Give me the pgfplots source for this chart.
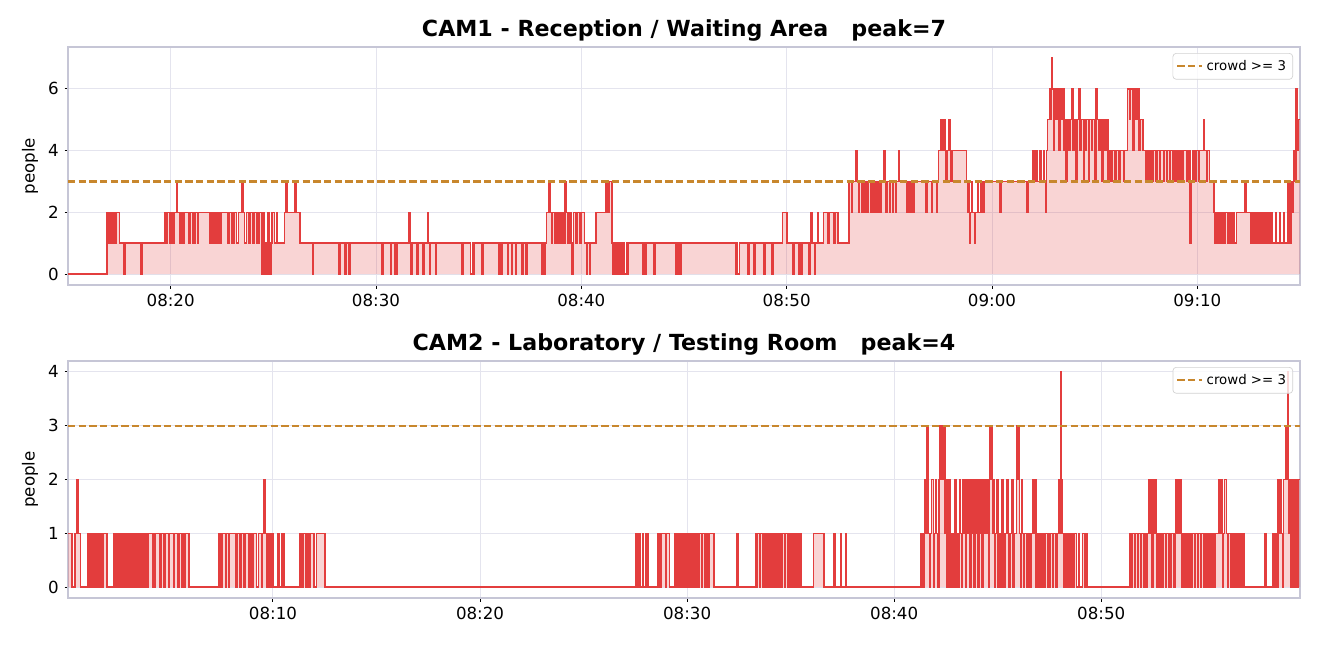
\documentclass[border=0pt]{standalone}
\usepackage{fontspec}
\setmainfont{DejaVu Sans}
\usepackage{pgfplots}
\pgfplotsset{compat=1.18}
\usepackage{pgfplotstable}
\definecolor{camred}{RGB}{227,61,61}
\definecolor{crowdc}{RGB}{200,135,45}
\definecolor{gridc}{RGB}{228,228,238}
\definecolor{spinec}{RGB}{198,198,214}

\pgfplotstableread{
t v
15.0 0
16.9 2
17.0 1
17.05 2
17.15 1
17.2 2
17.3 1
17.35 2
17.5 1
17.7 0
17.78 1
18.55 0
18.62 1
19.7 2
19.78 1
19.85 2
19.95 1
20.0 2
20.1 1
20.15 2
20.28 3
20.33 2
20.45 1
20.5 2
20.6 1
20.65 2
20.9 1
20.95 2
21.1 1
21.2 2
21.3 1
21.35 2
21.9 1
21.95 2
22.0 1
22.1 2
22.2 1
22.25 2
22.35 1
22.45 2
22.8 1
22.85 2
23.0 1
23.1 2
23.2 1
23.3 2
23.48 3
23.53 2
23.6 1
23.7 2
23.8 1
23.85 2
24.0 1
24.05 2
24.2 1
24.3 2
24.45 0
24.5 2
24.55 1
24.6 0
24.7 1
24.75 2
24.8 0
24.88 1
24.95 2
25.05 1
25.15 2
25.2 1
25.55 2
25.62 3
25.67 2
26.05 3
26.1 2
26.3 1
26.9 0
26.95 1
28.2 0
28.25 1
28.5 0
28.55 1
28.7 0
28.75 1
30.3 0
30.35 1
30.7 0
30.75 1
30.9 0
30.95 1
31.0 0
31.05 1
31.6 2
31.65 1
31.7 0
31.75 1
32.0 0
32.05 1
32.3 0
32.35 1
32.5 2
32.55 1
32.6 0
32.65 1
32.9 0
32.95 1
34.2 0
34.25 1
34.6 0
34.7 1
34.75 0
34.8 1
35.15 0
35.2 1
36.0 0
36.05 1
36.1 0
36.15 1
36.4 0
36.45 1
36.6 0
36.65 1
36.8 0
36.85 1
37.1 0
37.15 1
37.3 0
37.35 1
38.1 0
38.15 1
38.2 0
38.25 1
38.3 2
38.4 3
38.48 2
38.55 1
38.6 2
38.7 1
38.75 2
38.85 1
38.9 2
39.0 1
39.05 2
39.15 1
39.2 3
39.28 2
39.35 1
39.4 2
39.5 1
39.55 0
39.62 2
39.75 1
39.8 2
39.95 1
40.0 2
40.15 1
40.25 0
40.3 1
40.4 0
40.45 1
40.7 2
41.2 3
41.3 2
41.35 3
41.5 1
41.55 0
41.6 1
41.65 0
41.7 1
41.75 0
41.85 1
41.9 0
41.95 1
42.0 0
42.05 1
42.1 0
42.2 1
42.25 0
42.3 1
43.0 0
43.05 1
43.1 0
43.15 1
43.55 0
43.6 1
44.6 0
44.65 1
44.7 0
44.75 1
44.8 0
44.85 1
47.5 0
47.55 1
47.6 0
47.7 1
48.1 0
48.15 1
48.4 0
48.45 1
48.9 0
48.95 1
49.3 0
49.35 1
49.8 2
50.0 1
50.3 0
50.35 1
50.6 0
50.65 1
50.7 0
50.75 1
51.1 0
51.15 1
51.2 2
51.25 1
51.35 0
51.4 1
51.5 2
51.55 1
51.8 2
52.0 1
52.05 2
52.3 1
52.35 2
52.5 1
53.05 3
53.15 2
53.2 3
53.35 4
53.42 3
53.5 2
53.55 3
53.65 2
53.7 3
53.75 2
53.8 3
53.9 2
53.95 3
54.1 2
54.15 3
54.25 2
54.3 3
54.4 2
54.45 3
54.55 2
54.6 3
54.75 4
54.8 3
54.85 2
54.9 3
55.0 2
55.05 3
55.15 2
55.2 3
55.3 2
55.35 3
55.45 4
55.5 3
55.85 2
55.9 3
56.0 2
56.05 3
56.15 2
56.2 3
56.8 2
56.85 3
57.05 2
57.1 3
57.3 2
57.35 3
57.4 4
57.5 5
57.55 4
57.6 5
57.7 4
57.75 3
57.8 4
57.9 5
57.95 4
58.0 3
58.05 4
58.75 3
58.8 2
58.85 3
58.9 1
58.95 2
59.0 3
59.05 2
59.15 1
59.2 2
59.3 3
59.35 2
59.45 3
59.55 2
59.6 3
60.4 2
60.45 3
61.7 2
61.75 3
62.0 4
62.05 3
62.15 4
62.2 3
62.35 4
62.4 3
62.5 4
62.55 3
62.6 2
62.65 4
62.7 5
62.8 6
62.85 5
62.9 7
62.95 6
63.0 4
63.05 6
63.1 5
63.15 6
63.25 4
63.3 6
63.35 5
63.45 6
63.5 4
63.55 5
63.6 3
63.65 5
63.75 4
63.8 5
63.9 6
63.95 4
64.0 5
64.1 3
64.15 5
64.25 6
64.3 4
64.35 5
64.45 3
64.5 5
64.55 4
64.6 5
64.7 3
64.75 5
64.85 4
64.9 5
65.0 3
65.05 6
65.1 5
65.2 4
65.25 5
65.35 3
65.4 5
65.5 4
65.55 5
65.65 3
65.7 4
65.8 3
65.85 4
66.0 3
66.05 4
66.2 3
66.25 4
66.4 3
66.45 4
66.6 6
66.7 5
66.75 6
66.85 4
66.9 6
67.0 5
67.1 6
67.15 4
67.2 5
67.35 4
67.5 3
67.55 4
67.65 3
67.7 4
67.8 3
67.85 4
68.0 3
68.05 4
68.15 3
68.2 4
68.35 3
68.4 4
68.5 3
68.55 4
68.65 3
68.7 4
68.8 3
68.85 4
68.95 3
69.0 4
69.1 3
69.15 4
69.25 3
69.3 4
69.5 3
69.55 4
69.65 1
69.7 3
69.8 4
69.9 3
69.95 4
70.05 3
70.1 4
70.3 5
70.35 4
70.45 3
70.5 4
70.6 3
70.8 2
70.85 1
70.95 2
71.0 1
71.1 2
71.15 1
71.25 2
71.3 1
71.35 2
71.5 1
71.55 2
71.65 1
71.75 2
71.8 1
71.9 2
72.3 3
72.38 2
72.6 1
72.65 2
72.7 1
72.8 2
72.85 1
72.95 2
73.0 1
73.1 2
73.15 1
73.2 2
73.25 1
73.35 2
73.4 1
73.5 2
73.55 1
73.6 2
73.65 1
73.8 2
73.85 1
74.0 2
74.05 1
74.2 2
74.25 1
74.4 3
74.45 2
74.5 1
74.55 3
74.6 2
74.65 3
74.7 4
74.75 3
74.8 6
74.85 4
74.9 5
75.0 5
}\camA

\pgfplotstableread{
t v
0.1 1
0.3 0
0.43 1
0.53 2
0.58 1
0.7 0
1.08 1
1.15 0
1.2 1
1.3 0
1.35 1
1.45 0
1.5 1
1.6 0
1.65 1
1.75 0
1.8 1
1.97 0
2.3 1
2.38 0
2.45 1
2.52 0
2.6 1
2.68 0
2.75 1
2.82 0
2.9 1
2.98 0
3.05 1
3.12 0
3.2 1
3.28 0
3.35 1
3.42 0
3.5 1
3.58 0
3.65 1
3.72 0
3.8 1
3.88 0
3.96 1
4.2 0
4.3 1
4.55 0
4.6 1
4.75 0
4.8 1
4.95 0
5.0 1
5.2 0
5.25 1
5.4 0
5.45 1
5.6 0
5.65 1
5.7 0
5.75 1
5.95 0
7.4 1
7.5 0
7.55 1
7.7 0
7.75 1
7.85 0
7.9 1
8.2 0
8.25 1
8.4 0
8.45 1
8.6 0
8.65 1
8.85 0
8.9 1
9.0 0
9.05 1
9.2 0
9.3 1
9.45 0
9.5 1
9.55 2
9.6 1
9.7 0
9.75 1
9.85 0
9.9 1
10.0 0
10.25 1
10.32 0
10.45 1
10.52 0
11.3 1
11.4 0
11.45 1
11.6 0
11.65 1
11.75 0
11.8 1
11.98 0
12.1 1
12.5 0
27.5 1
27.55 0
27.6 1
27.65 0
27.7 1
27.75 0
27.85 1
27.9 0
28.0 1
28.1 0
28.6 1
28.7 0
28.75 1
28.95 0
29.0 1
29.15 0
29.4 1
29.45 0
29.5 1
29.55 0
29.6 1
29.65 0
29.7 1
29.75 0
29.8 1
29.85 0
29.9 1
29.95 0
30.0 1
30.05 0
30.1 1
30.15 0
30.2 1
30.25 0
30.3 1
30.35 0
30.4 1
30.45 0
30.5 1
30.55 0
30.6 1
30.7 0
30.75 1
30.85 0
30.9 1
31.0 0
31.05 1
31.3 0
32.4 1
32.45 0
33.3 1
33.35 0
33.4 1
33.5 0
33.55 1
33.65 0
33.7 1
33.75 0
33.85 1
33.9 0
34.0 1
34.05 0
34.1 1
34.2 0
34.25 1
34.35 0
34.4 1
34.45 0
34.5 1
34.55 0
34.6 1
34.7 0
34.75 1
34.85 0
34.9 1
34.95 0
35.0 1
35.05 0
35.1 1
35.2 0
35.25 1
35.35 0
35.4 1
35.5 0
36.1 1
36.6 0
37.1 1
37.13 0
37.4 1
37.43 0
37.65 1
37.68 0
41.3 1
41.4 0
41.45 1
41.5 2
41.55 1
41.6 3
41.65 1
41.7 0
41.75 1
41.8 2
41.9 0
41.95 1
42.0 2
42.05 1
42.1 0
42.15 2
42.2 3
42.25 2
42.3 3
42.35 2
42.4 3
42.45 1
42.5 2
42.55 0
42.6 1
42.65 2
42.7 0
42.75 1
42.85 0
42.9 1
42.95 2
43.0 0
43.05 1
43.1 0
43.15 2
43.2 1
43.25 0
43.3 2
43.35 1
43.4 2
43.45 0
43.5 2
43.55 1
43.6 2
43.65 0
43.7 2
43.75 1
43.8 2
43.85 0
43.9 2
43.95 1
44.0 2
44.05 0
44.1 2
44.15 1
44.2 2
44.25 0
44.3 2
44.35 1
44.4 2
44.45 1
44.5 2
44.55 0
44.6 3
44.65 2
44.7 3
44.75 1
44.8 2
44.85 0
44.9 1
44.95 2
45.0 0
45.05 1
45.1 0
45.2 2
45.25 1
45.3 0
45.35 1
45.45 2
45.5 1
45.55 0
45.6 1
45.7 2
45.75 0
45.8 1
45.9 3
45.95 2
46.0 3
46.05 1
46.1 0
46.15 2
46.2 1
46.25 0
46.3 1
46.4 0
46.45 1
46.55 0
46.6 1
46.7 2
46.75 1
46.8 2
46.85 0
46.9 1
46.95 0
47.05 1
47.1 0
47.15 1
47.25 0
47.3 1
47.4 0
47.45 1
47.5 0
47.55 1
47.65 0
47.7 1
47.8 0
47.85 1
47.95 2
48.0 1
48.03 4
48.07 2
48.12 1
48.2 0
48.25 1
48.3 0
48.4 1
48.5 0
48.55 1
48.65 0
48.7 1
48.8 0
48.9 1
48.95 0
49.1 1
49.2 0
49.25 1
49.3 0
51.4 1
51.45 0
51.5 1
51.6 0
51.65 1
51.75 0
51.8 1
51.9 0
51.95 1
52.05 0
52.1 1
52.15 0
52.2 1
52.3 2
52.35 1
52.4 2
52.45 0
52.5 1
52.55 2
52.65 1
52.7 0
52.75 1
52.85 0
52.9 1
52.95 0
53.0 1
53.1 0
53.15 1
53.25 0
53.3 1
53.35 0
53.4 1
53.5 0
53.55 1
53.6 2
53.7 1
53.75 2
53.85 1
53.9 0
53.95 1
54.05 0
54.1 1
54.2 0
54.25 1
54.35 0
54.4 1
54.5 0
54.55 1
54.65 0
54.7 1
54.8 0
54.85 1
54.95 0
55.0 1
55.05 0
55.1 1
55.2 0
55.25 1
55.3 0
55.35 1
55.45 0
55.5 1
55.7 2
55.75 1
55.8 2
55.85 0
55.9 1
55.95 2
56.05 1
56.1 0
56.15 1
56.25 0
56.3 1
56.35 0
56.45 1
56.5 0
56.6 1
56.65 0
56.75 1
56.8 0
56.85 1
56.9 0
57.9 1
57.95 0
58.3 1
58.4 0
58.45 1
58.5 0
58.55 2
58.6 1
58.65 2
58.7 1
58.75 0
58.8 2
58.9 3
58.95 2
59.0 4
59.05 1
59.1 2
59.15 0
59.2 1
59.25 2
59.3 0
59.35 1
59.4 2
59.45 0
59.5 2
59.6 2
}\camB

\pgfplotsset{
  camaxis/.style={
    scale only axis,
    width=739.2pt,
    axis line style={spinec, line width=0.8pt},
    grid=major,
    major grid style={gridc, line width=0.6pt},
    tick align=outside,
    xtick pos=bottom, ytick pos=left,
    major tick length=2.1pt,
    tick style={black, line width=0.6pt},
    ticklabel style={font=\fontsize{10}{12}\selectfont},
    /pgf/number format/assume math mode=true,
    ylabel={people},
    every axis y label/.style={at={(axis description cs:-0.0308,0.5)}, rotate=90, anchor=center, font=\fontsize{10}{12}\selectfont},
    every axis title/.style={at={(0.5,1)}, anchor=base, yshift=6.2pt, font=\fontsize{13.3}{15}\selectfont\bfseries},
    legend style={at={(1,1)}, anchor=north east, xshift=-4.2pt, yshift=-3.6pt,
      font=\fontsize{8}{10}\selectfont, draw=gray!35, rounded corners=2pt,
      fill=white, fill opacity=0.8, text opacity=1, inner sep=2pt},
    legend cell align=left,
    legend image code/.code={\draw[#1] (0pt,0pt) -- (15pt,0pt);},
  },
}

\begin{document}
\begin{tikzpicture}
\path (0,0) rectangle (792pt,388.8pt);
\begin{axis}[camaxis,
  at={(40.8pt,217.8pt)}, anchor=south west,
  height=142.8pt,
  xmin=15, xmax=75,
  ymin=-0.35, ymax=7.35,
  xtick={20,30,40,50,60,70},
  xticklabels={08:20,08:30,08:40,08:50,09:00,09:10},
  ytick={0,2,4,6},
  title={CAM1 - Reception / Waiting Area\ \ \ peak=7},
]
\addplot[const plot, draw=none, fill=camred, fill opacity=0.22, forget plot] table[x=t,y=v] {\camA} \closedcycle;
\addplot[const plot, color=camred, line width=1pt, forget plot] table[x=t,y=v] {\camA};
\addplot[color=crowdc, line width=1.25pt, dash pattern=on 4.4pt off 2pt] coordinates {(15,3) (75,3)};
\addlegendentry{crowd >= 3}
\end{axis}
\begin{axis}[camaxis,
  at={(40.8pt,30pt)}, anchor=south west,
  height=142.2pt,
  xmin=0.1, xmax=59.6,
  ymin=-0.2, ymax=4.2,
  xtick={10,20,30,40,50},
  xticklabels={08:10,08:20,08:30,08:40,08:50},
  ytick={0,1,2,3,4},
  title={CAM2 - Laboratory / Testing Room\ \ \ peak=4},
]
\addplot[const plot, draw=none, fill=camred, fill opacity=0.22, forget plot] table[x=t,y=v] {\camB} \closedcycle;
\addplot[const plot, color=camred, line width=1pt, forget plot] table[x=t,y=v] {\camB};
\addplot[color=crowdc, line width=1.25pt, dash pattern=on 4.4pt off 2pt] coordinates {(0.1,3) (59.6,3)};
\addlegendentry{crowd >= 3}
\end{axis}
\end{tikzpicture}
\end{document}
